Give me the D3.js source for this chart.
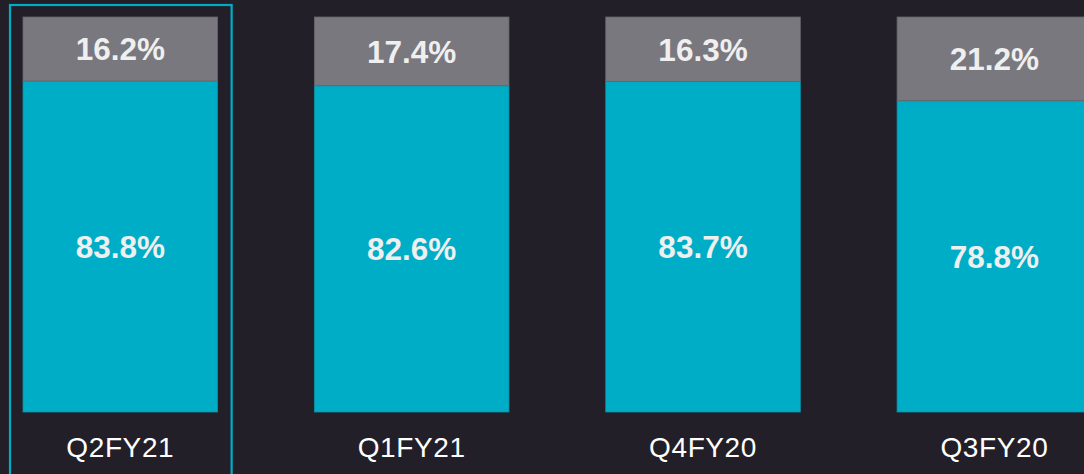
<!DOCTYPE html>
<html><head><meta charset="utf-8">
<script src="https://cdn.jsdelivr.net/npm/d3@7"></script>
<style>html,body{margin:0;padding:0;background:#231f28;overflow:hidden}</style>
</head><body>
<svg id="c" width="1084" height="474"></svg>
<script>
const categories = ["Q2FY21", "Q1FY21", "Q4FY20", "Q3FY20"];
const bottomValues = [83.8, 82.6, 83.7, 78.8];
const topValues = [16.2, 17.4, 16.3, 21.2];
const highlighted = "Q2FY21";

const svg = d3.select("#c");
const W = 1084, H = 474;
svg.append("rect").attr("width", W).attr("height", H).attr("fill", "#231f28");

const x = d3.scaleBand().domain(categories).range([23, 1091.7]).paddingInner(0.332).paddingOuter(0);
const y = d3.scaleLinear().domain([0, 100]).range([412, 17]);

const data = categories.map((c, i) => ({c, b: bottomValues[i], t: topValues[i]}));

const g = svg.append("g");
g.selectAll(".b").data(data).join("rect")
  .attr("x", d => x(d.c)).attr("width", x.bandwidth())
  .attr("y", d => y(d.b)).attr("height", d => y(0) - y(d.b))
  .attr("fill", "#00adc7").attr("stroke", "#0a8fa6").attr("stroke-width", 0.8);
g.selectAll(".t").data(data).join("rect")
  .attr("x", d => x(d.c)).attr("width", x.bandwidth())
  .attr("y", d => y(d.b + d.t)).attr("height", d => y(d.b) - y(d.b + d.t))
  .attr("fill", "#7a787f").attr("stroke", "#66646b").attr("stroke-width", 0.8);

const fs = 31.5;
g.selectAll(".lt").data(data).join("text")
  .attr("x", d => x(d.c) + x.bandwidth() / 2)
  .attr("y", d => (y(d.b) + y(d.b + d.t)) / 2 + fs * 0.36)
  .attr("text-anchor", "middle").attr("font-family", "Liberation Sans, Arial, sans-serif")
  .attr("font-weight", "bold").attr("font-size", fs).attr("fill", "#efefef")
  .text(d => d.t.toFixed(1) + "%");
g.selectAll(".lb").data(data).join("text")
  .attr("x", d => x(d.c) + x.bandwidth() / 2)
  .attr("y", d => (y(0) + y(d.b)) / 2 + fs * 0.36)
  .attr("text-anchor", "middle").attr("font-family", "Liberation Sans, Arial, sans-serif")
  .attr("font-weight", "bold").attr("font-size", fs).attr("fill", "#efefef")
  .text(d => d.b.toFixed(1) + "%");

g.selectAll(".cat").data(categories).join("text")
  .attr("x", d => x(d) + x.bandwidth() / 2)
  .attr("y", 457)
  .attr("text-anchor", "middle").attr("font-family", "Liberation Sans, Arial, sans-serif")
  .attr("font-size", 28).attr("letter-spacing", 0.6).attr("fill", "#ffffff")
  .text(d => d);

svg.append("rect")
  .attr("x", x(highlighted) - 13).attr("y", 5)
  .attr("width", x.bandwidth() + 27).attr("height", 480)
  .attr("fill", "none").attr("stroke", "#00adc7").attr("stroke-width", 2.2);
</script>
</body></html>
